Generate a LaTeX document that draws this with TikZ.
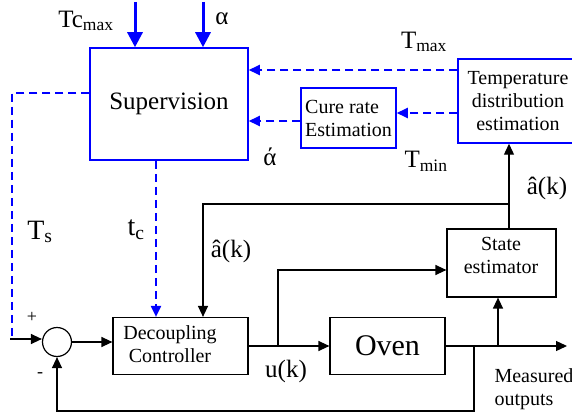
\documentclass[tikz,border=0pt]{standalone}
\usepackage{fontspec}
\setmainfont{Liberation Serif}
\usetikzlibrary{arrows.meta}

\begin{document}
\begin{tikzpicture}[x=1pt, y=-1pt,
		>={Triangle[length=11pt,width=10pt]},
		blk/.style={draw, line width=1.2pt, inner sep=0pt},
		bluebox/.style={draw=blue, line width=1.5pt, inner sep=0pt},
		dashln/.style={draw=blue, line width=2pt, dash pattern=on 8pt off 5pt},
		solidln/.style={line width=1.3pt},
		boxtxt/.style={font=\fontsize{20}{23}\selectfont, align=center},
		lbl/.style={font=\fontsize{25}{28}\selectfont, inner sep=0pt},
		biglbl/.style={font=\fontsize{28}{30}\selectfont, inner sep=0pt}]
		\useasboundingbox (0,0) rectangle (572,414);
		
		\node[bluebox, minimum width=158, minimum height=112,
			font=\fontsize{25}{27}\selectfont] (sup) at (169,104) {Supervision};
		\node[bluebox, minimum width=95, minimum height=60, boxtxt, align=left]
			(cure) at (348.5,118) {Cure rate\\Estimation};
		\node[bluebox, minimum width=120, minimum height=84, boxtxt]
			(temp) at (518,101) {Temperature\\distribution\\estimation};
		
		\node[blk, minimum width=135, minimum height=57] (dec) at (180.5,346) {};
		\node[boxtxt] (dectxt) at (170,344) {Decoupling\\Controller};
		\node[blk, minimum width=115, minimum height=57,
			font=\fontsize{30}{32}\selectfont] (oven) at (387.5,346) {Oven};
		\node[blk, minimum width=109, minimum height=68] (st) at (501.5,263) {};
		\node[boxtxt] (sttxt) at (501,255) {State\\estimator};
		\node[circle, blk, minimum size=29] (sum) at (57,342) {};
		
		%========================================================================
		% Labels
		\node[lbl] (tcmax) at (86,21) {Tc\textsubscript{max}};
		\node[lbl] (alpha) at (222,19) {α};
		\node[lbl] (tmax) at (424,42) {T\textsubscript{max}};
		\node[lbl] (tmin) at (426,161) {T\textsubscript{min}};
		\node[lbl] (alphac) at (270,157) {ά};
		\node[biglbl] (ts) at (40,232) {T\textsubscript{s}};
		\node[biglbl] (tc) at (136,230) {t\textsubscript{c}};
		\node[lbl] (akl) at (231,251) {â(k)};
		\node[lbl] (akr) at (547,188) {â(k)};
		\node[lbl] (uk) at (286,371) {u(k)};
		\node[boxtxt, align=left, anchor=west] (meas) at (491,389) {Measured\\outputs};
		\node[font=\fontsize{18}{20}\selectfont, inner sep=0pt] (plus) at (32,317) {+};
		\node[font=\fontsize{18}{20}\selectfont, inner sep=0pt] (minus) at (40,375) {-};
		
		\coordinate (tcin) at (135,2);
		\coordinate (alin) at (203,2);
		\coordinate (tsend) at (12,337);
		\coordinate (in) at (10,339);
		\coordinate (ub) at (278,346);
		\coordinate (fb) at (474,346);
		\coordinate (yout) at (567,346);
		\coordinate (ak) at (509,204);
		
		%========================================================================
		% Arrows
		\draw[blue, line width=3pt, -{Triangle[length=15pt,width=15pt]}] (tcin) -- (tcin |- sup.north);
		\draw[blue, line width=3pt, -{Triangle[length=15pt,width=15pt]}] (alin) -- (alin |- sup.north);
		\draw[dashln, ->] (temp.west |- 0,70) -- (sup.east |- 0,70);
		\draw[dashln, ->] (temp.west |- 0,113) -- (cure.east |- 0,113);
		\draw[dashln, ->] (cure.west |- 0,121) -- (sup.east |- 0,121);
		\draw[dashln] (sup.west |- 0,93) -| (tsend);
		\draw[dashln, ->] (sup.south -| 156,0) -- (dec.north -| 156,0);
		
		\draw[solidln, ->] (in) -- (in -| sum.west);
		\draw[solidln, ->] (sum.east) -- (sum.east -| dec.west);
		\draw[solidln, ->] (dec.east) -- (oven.west);
		\draw[solidln, ->] (ub) |- (st.west |- 0,270);
		\draw[solidln, ->] (oven.east) -- (yout);
		\draw[solidln, ->] (fb) |- (sum.south |- 0,411) -- (sum.south);
		\draw[solidln, ->] (oven.east -| 498,0) -- (st.south -| 498,0);
		\draw[solidln, ->] (st.north -| ak) -- (temp.south -| ak);
		\draw[solidln, ->] (ak) -| (dec.north -| 203,0);
	\end{tikzpicture}
\end{document}
